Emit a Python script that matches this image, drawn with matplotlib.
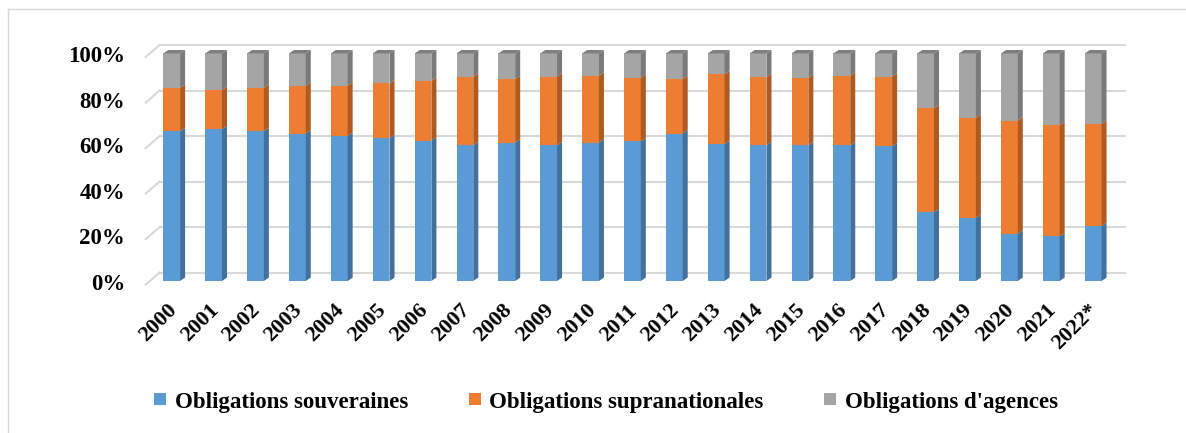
import numpy as np
import matplotlib
matplotlib.use('Agg')
from matplotlib import pyplot as plt
from matplotlib.patches import Polygon
from matplotlib.lines import Line2D

years = ['2000', '2001', '2002', '2003', '2004', '2005', '2006', '2007', '2008',
         '2009', '2010', '2011', '2012', '2013', '2014', '2015', '2016', '2017',
         '2018', '2019', '2020', '2021', '2022*']
# cumulative reading from the picture, in %
souveraines = [65.8, 66.7, 65.8, 64.8, 63.7, 62.7, 61.7, 59.6, 60.8, 59.6, 60.8,
               61.4, 64.8, 60.2, 59.6, 59.6, 59.6, 59.2, 30.2, 27.7, 20.8, 19.6, 24.1]
supra_top = [84.9, 83.9, 84.9, 85.8, 85.8, 86.8, 87.9, 89.8, 88.7, 89.8, 90.2,
             89.3, 88.7, 90.8, 89.5, 89.3, 90.2, 89.8, 75.9, 71.7, 70.5, 68.4, 69.0]
supranationales = [t - s for t, s in zip(supra_top, souveraines)]
agences = [100 - t for t in supra_top]

series = ['Obligations souveraines', 'Obligations supranationales', "Obligations d'agences"]
front_colors = ['#5b9bd5', '#ed7d31', '#a5a5a5']
side_colors = ['#41719c', '#ae5a21', '#7a7a7a']
ticks = [0, 20, 40, 60, 80, 100]

FONT = 'Liberation Serif'
W = 0.40      # bar width
DX = 0.12     # depth of bar side (x units)
DY = 1.5      # depth of bar top (% units)

fig = plt.figure(figsize=(11.86, 4.33), dpi=100)
ax = fig.add_axes([140 / 1186, (433 - 290) / 433, 990 / 1186, 250 / 433])
ax.set_xlim(-0.757, 22.88)
ax.set_ylim(-3.96, 105.9)
ax.axis('off')

x = np.arange(len(years))

# back wall gridlines with the slanted floor ends
for v in ticks:
    ax.plot([-0.62, -0.29], [v - 1.6, v + 3.7], color='#d9d9d9', lw=1.5, zorder=1)
    ax.plot([-0.29, 22.76], [v + 3.7, v + 3.7], color='#d9d9d9', lw=1.5, zorder=1)
    ax.text(-1.11, v - 1.4, f'{v}%', ha='right', va='center', fontsize=16.5,
            fontweight='bold', family=FONT)

vals = [souveraines, supranationales, agences]
bottom = np.zeros(len(years))
for k, v in enumerate(vals):
    v = np.array(v)
    ax.bar(x, v, W, bottom=bottom, color=front_colors[k], zorder=3, linewidth=0)
    for i in range(len(years)):
        b, t = bottom[i], bottom[i] + v[i]
        xr = x[i] + W / 2
        ax.add_patch(Polygon([(xr, b), (xr + DX, b + DY), (xr + DX, t + DY), (xr, t)],
                             closed=True, color=side_colors[k], lw=0, zorder=3))
    bottom = bottom + v

# top faces
for i in range(len(years)):
    xl, xr = x[i] - W / 2, x[i] + W / 2
    t = bottom[i]
    ax.add_patch(Polygon([(xl, t), (xl + DX, t + DY), (xr + DX, t + DY), (xr, t)],
                         closed=True, color='#7f7f7f', lw=0, zorder=3))

for i, lab in enumerate(years):
    ax.text(x[i] - 0.12, -8.5, lab, rotation=45, ha='right', va='top',
            rotation_mode='anchor', fontsize=16, fontweight='bold', family=FONT)

handles = [Line2D([], [], marker='s', linestyle='', markersize=8.5,
                  markerfacecolor=c, markeredgewidth=0) for c in front_colors]
fig.legend(handles, series, loc='center', bbox_to_anchor=(0.5106, 0.0716),
           ncol=3, frameon=False, handlelength=0.6, handletextpad=0.35,
           columnspacing=2.6,
           prop={'family': FONT, 'weight': 'bold', 'size': 16.5})

# chart frame
fig.add_artist(Line2D([8 / 1186, 8 / 1186], [0, 1 - 9 / 433], color='#d9d9d9', lw=1))
fig.add_artist(Line2D([8 / 1186, 1], [1 - 9 / 433, 1 - 9 / 433], color='#d9d9d9', lw=1))

fig.savefig('out.png', dpi=100)
